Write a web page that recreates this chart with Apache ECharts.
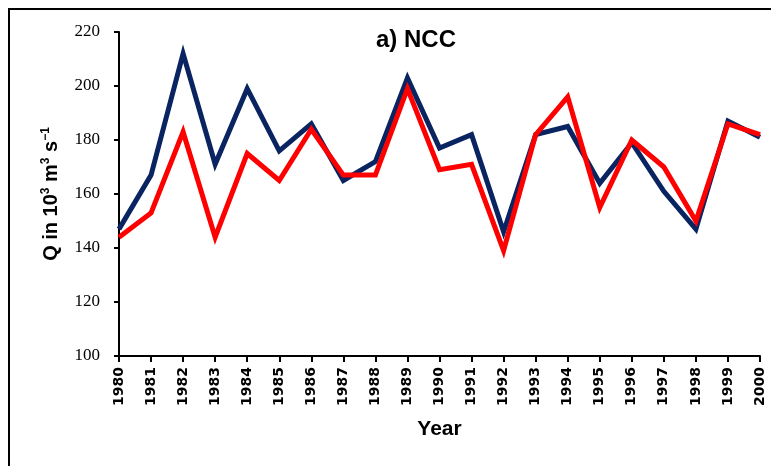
<!DOCTYPE html>
<html>
<head>
<meta charset="utf-8">
<style>
  html, body { margin: 0; padding: 0; background: #fff; }
  #chart { width: 771px; height: 466px; }
</style>
<script src="https://cdn.jsdelivr.net/npm/echarts@6/dist/echarts.min.js"></script>
</head>
<body>
<div id="chart"></div>
<script>
// Annual discharge, NCC
const years = ['1980','1981','1982','1983','1984','1985','1986','1987','1988','1989','1990',
               '1991','1992','1993','1994','1995','1996','1997','1998','1999','2000'];
const seriesNavy = [147, 167, 212, 171, 199, 176, 186, 165, 172, 203, 177,
                    182, 146, 182, 185, 164, 179, 161, 147, 187, 181];
const seriesRed  = [144, 153, 183, 144, 175, 165, 184, 167, 167, 199, 169,
                    171, 139, 182, 196, 155, 180, 170, 150, 186, 182];
const yTicks = { min: 100, max: 220, interval: 20 };

const chart = echarts.init(document.getElementById('chart'), null, { renderer: 'canvas' });
const sansFont = '"Liberation Sans", Arial, sans-serif';

chart.setOption({
  animation: false,
  backgroundColor: '#ffffff',
  graphic: [{
    type: 'rect',
    shape: { x: 9, y: 9, width: 800, height: 500 },
    style: { fill: 'none', stroke: '#000', lineWidth: 2 },
    silent: true,
    z: -1
  }],
  title: {
    text: 'a) NCC',
    left: 411,
    top: 23,
    textAlign: 'center',
    textStyle: { fontFamily: sansFont, fontWeight: 'bold', fontSize: 24, color: '#000' }
  },
  grid: { left: 119, right: 11, top: 32, bottom: 110, containLabel: false },
  xAxis: {
    type: 'category',
    data: years,
    boundaryGap: false,
    name: 'Year',
    nameLocation: 'middle',
    nameGap: 63,
    nameTextStyle: { fontFamily: sansFont, fontWeight: 'bold', fontSize: 21, color: '#000' },
    axisLine: { lineStyle: { color: '#000', width: 2 } },
    axisTick: { length: 6, lineStyle: { color: '#000', width: 2 } },
    axisLabel: {
      rotate: 90, interval: 0, margin: 11,
      fontFamily: '"DejaVu Sans", sans-serif', fontWeight: 'bold', fontSize: 14, color: '#000'
    },
    splitLine: { show: false }
  },
  yAxis: {
    type: 'value',
    min: yTicks.min, max: yTicks.max, interval: yTicks.interval,
    name: '{a|Q in 10}{s|3}{a| m}{s|3}{a| s}{s|\u22121}',
    nameLocation: 'middle',
    nameRotate: 90,
    nameGap: 57,
    nameTextStyle: {
      color: '#000',
      rich: {
        a: { fontFamily: sansFont, fontWeight: 'bold', fontSize: 20, color: '#000' },
        s: { fontFamily: sansFont, fontWeight: 'bold', fontSize: 12, color: '#000', padding: [0, 0, 10, 0] }
      }
    },
    axisLine: { show: true, lineStyle: { color: '#000', width: 2 } },
    axisTick: { show: true, length: 5, lineStyle: { color: '#000', width: 2 } },
    axisLabel: { margin: 19, fontFamily: '"Liberation Serif", "Times New Roman", serif', fontSize: 17, color: '#000' },
    splitLine: { show: false }
  },
  series: [
    {
      type: 'line', data: seriesNavy, showSymbol: false, symbol: 'none',
      lineStyle: { color: '#0a2461', width: 5, join: 'miter' }, z: 2
    },
    {
      type: 'line', data: seriesRed, showSymbol: false, symbol: 'none',
      lineStyle: { color: '#ff0000', width: 5, join: 'miter' }, z: 3
    }
  ]
});
</script>
</body>
</html>
